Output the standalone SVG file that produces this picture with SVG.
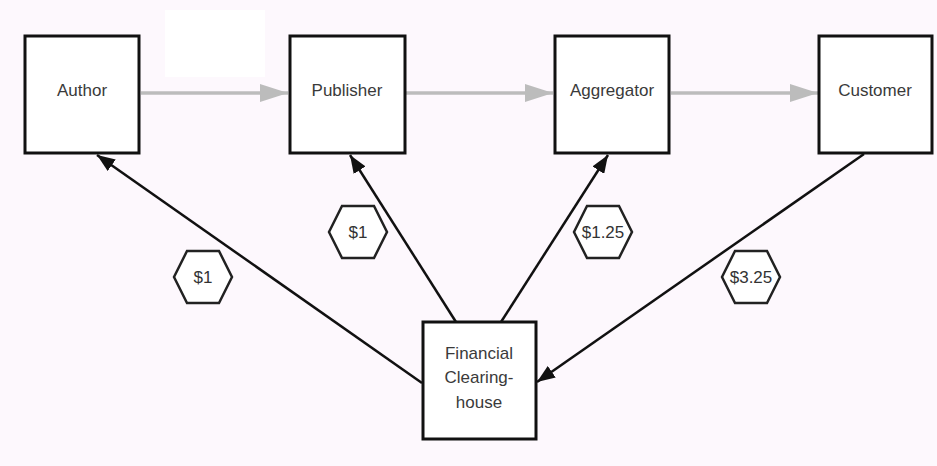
<svg xmlns="http://www.w3.org/2000/svg" width="937" height="466" viewBox="0 0 937 466">
  <style>
    .box { fill: #ffffff; stroke: #111111; stroke-width: 3; }
    .label { font-family: "Liberation Sans", Arial, sans-serif; font-size: 17px; fill: #3a3a3a; text-anchor: middle; }
    .hex { fill: #ffffff; stroke: #222222; stroke-width: 2.5; }
    .price { font-family: "Liberation Sans", Arial, sans-serif; font-size: 17px; fill: #333333; text-anchor: middle; }
    .flow { stroke: #bcbcbc; stroke-width: 3.5; fill: none; }
    .pay { stroke: #111111; stroke-width: 2.5; fill: none; }
  </style>
  <defs>
    <marker id="grayHead" markerUnits="userSpaceOnUse" markerWidth="30" markerHeight="20" refX="28" refY="9" orient="auto">
      <path d="M0,0 L28,9 L0,18 Z" fill="#bcbcbc"/>
    </marker>
    <marker id="blackHead" markerUnits="userSpaceOnUse" markerWidth="20" markerHeight="14" refX="18" refY="7" orient="auto">
      <path d="M0,0 L18,7 L0,14 Z" fill="#111111"/>
    </marker>
  </defs>

  <!-- page background -->
  <rect x="0" y="0" width="937" height="466" fill="#fdf8fd"/>
  <rect x="165" y="10" width="100" height="67" fill="#ffffff"/>

  <!-- connectors -->
  <g id="connectors">
    <line class="flow" x1="141" y1="93" x2="288" y2="93" marker-end="url(#grayHead)"/>
    <line class="flow" x1="406" y1="93" x2="553" y2="93" marker-end="url(#grayHead)"/>
    <line class="flow" x1="671" y1="93" x2="818" y2="93" marker-end="url(#grayHead)"/>

    <line class="pay" x1="422" y1="383" x2="97" y2="155" marker-end="url(#blackHead)"/>
    <line class="pay" x1="456" y1="322" x2="350" y2="155" marker-end="url(#blackHead)"/>
    <line class="pay" x1="501" y1="322" x2="608" y2="155" marker-end="url(#blackHead)"/>
    <line class="pay" x1="864" y1="154" x2="537" y2="382" marker-end="url(#blackHead)"/>
  </g>

  <!-- nodes -->
  <g id="author">
    <rect class="box" x="25" y="36" width="114" height="117"/>
    <text class="label" x="82" y="96">Author</text>
  </g>
  <g id="publisher">
    <rect class="box" x="290" y="36" width="115" height="117"/>
    <text class="label" x="347" y="96">Publisher</text>
  </g>
  <g id="aggregator">
    <rect class="box" x="555" y="36" width="114" height="117"/>
    <text class="label" x="612" y="96">Aggregator</text>
  </g>
  <g id="customer">
    <rect class="box" x="819" y="36" width="113" height="117"/>
    <text class="label" x="875" y="96">Customer</text>
  </g>
  <g id="clearinghouse">
    <rect class="box" x="423" y="322" width="113" height="117"/>
    <text class="label" x="479" y="359">Financial</text>
    <text class="label" x="479" y="383">Clearing-</text>
    <text class="label" x="479" y="408">house</text>
  </g>

  <!-- payment amounts -->
  <g id="price-author">
    <polygon class="hex" points="174,277 187,251 219,251 232,277 219,303 187,303"/>
    <text class="price" x="203" y="283">$1</text>
  </g>
  <g id="price-publisher">
    <polygon class="hex" points="329,232 342,206 374,206 387,232 374,258 342,258"/>
    <text class="price" x="358" y="238">$1</text>
  </g>
  <g id="price-aggregator">
    <polygon class="hex" points="574,232 587,206 619,206 632,232 619,258 587,258"/>
    <text class="price" x="603" y="238">$1.25</text>
  </g>
  <g id="price-customer">
    <polygon class="hex" points="722,277 735,251 767,251 780,277 767,303 735,303"/>
    <text class="price" x="751" y="283">$3.25</text>
  </g>
</svg>
